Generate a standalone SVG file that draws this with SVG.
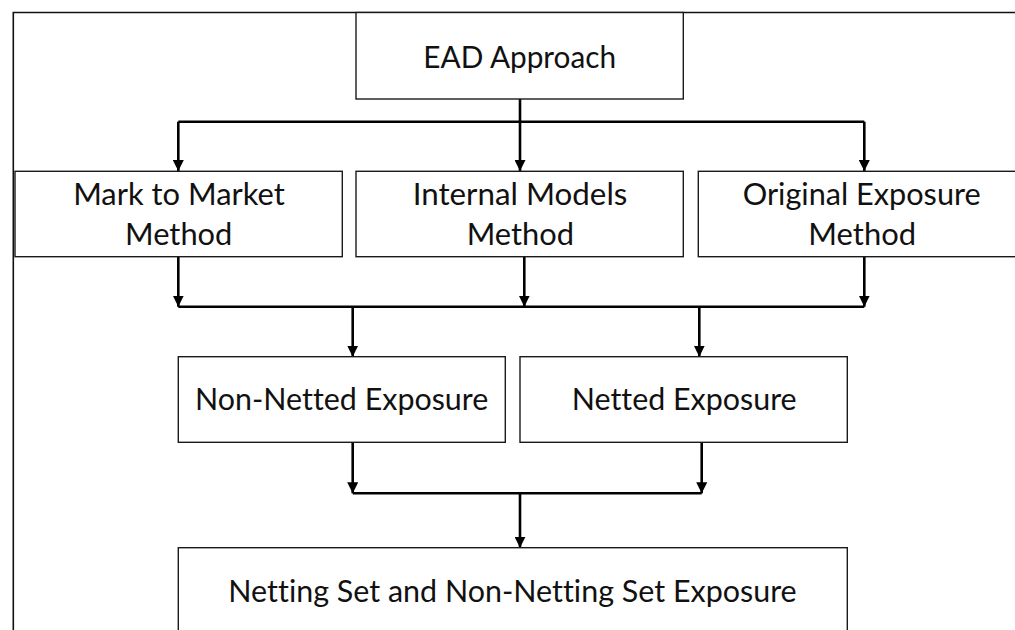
<svg xmlns="http://www.w3.org/2000/svg" width="1015" height="630" viewBox="0 0 1015 630">
  <style>
    .box { fill: #ffffff; stroke: #1a1a1a; stroke-width: 1.4; }
    .lbl { font-family: Lato, "Liberation Sans", sans-serif; font-size: 30px; fill: #111111; text-anchor: middle; font-variant-ligatures: none; font-feature-settings: "liga" 0, "clig" 0; }
    .con { fill: none; stroke: #000000; stroke-width: 2.6; }
    .frame { fill: none; stroke: #111111; stroke-width: 1.6; }
  </style>
  <defs>
    <marker id="arr" markerUnits="userSpaceOnUse" markerWidth="11" markerHeight="11" refX="10" refY="5" orient="auto" viewBox="0 0 10 10">
      <path d="M0,0 L10,5 L0,10 z" fill="#000000"/>
    </marker>
  </defs>

  <path class="frame" d="M13.3,630 V12.5 H1015"/>

  <g id="connectors">
    <path class="con" d="M520,99 V121.7 M178.3,121.7 H864.3"/>
    <path class="con" d="M178.3,121.7 V171" marker-end="url(#arr)"/>
    <path class="con" d="M520,121.7 V171" marker-end="url(#arr)"/>
    <path class="con" d="M864.3,121.7 V171" marker-end="url(#arr)"/>

    <path class="con" d="M178.3,306.7 H864.3"/>
    <path class="con" d="M178.3,256.7 V306.7" marker-end="url(#arr)"/>
    <path class="con" d="M524.3,256.7 V306.7" marker-end="url(#arr)"/>
    <path class="con" d="M864.3,256.7 V306.7" marker-end="url(#arr)"/>
    <path class="con" d="M352.7,306.7 V356.7" marker-end="url(#arr)"/>
    <path class="con" d="M699.3,306.7 V356.7" marker-end="url(#arr)"/>

    <path class="con" d="M352.7,493.3 H701.7"/>
    <path class="con" d="M352.7,442.3 V493.3" marker-end="url(#arr)"/>
    <path class="con" d="M701.7,442.3 V493.3" marker-end="url(#arr)"/>
    <path class="con" d="M520,493.3 V547.7" marker-end="url(#arr)"/>
  </g>

  <g id="ead">
    <rect class="box" x="356" y="12.5" width="327.3" height="86.5"/>
    <text class="lbl" x="519.7" y="68.3" textLength="192.7" lengthAdjust="spacingAndGlyphs">EAD Approach</text>
  </g>

  <g id="mtm">
    <rect class="box" x="15" y="171.3" width="327.3" height="85.4"/>
    <text class="lbl" x="179" y="205" textLength="211.7" lengthAdjust="spacingAndGlyphs">Mark to Market</text>
    <text class="lbl" x="178.7" y="245" textLength="107.3" lengthAdjust="spacingAndGlyphs">Method</text>
  </g>

  <g id="imm">
    <rect class="box" x="356" y="171.3" width="327.3" height="85.4"/>
    <text class="lbl" x="520" y="205" textLength="214.7" lengthAdjust="spacingAndGlyphs">Internal Models</text>
    <text class="lbl" x="520.3" y="245" textLength="107.3" lengthAdjust="spacingAndGlyphs">Method</text>
  </g>

  <g id="oem">
    <rect class="box" x="698.3" y="171.3" width="327.3" height="85.4"/>
    <text class="lbl" x="861.7" y="205" textLength="238" lengthAdjust="spacingAndGlyphs">Original Exposure</text>
    <text class="lbl" x="862.2" y="245" textLength="107.7" lengthAdjust="spacingAndGlyphs">Method</text>
  </g>

  <g id="nne">
    <rect class="box" x="178.3" y="356.7" width="327" height="85.6"/>
    <text class="lbl" x="341.7" y="410" textLength="293.3" lengthAdjust="spacingAndGlyphs">Non-Netted Exposure</text>
  </g>

  <g id="ne">
    <rect class="box" x="520" y="356.7" width="327.3" height="85.6"/>
    <text class="lbl" x="684.2" y="410" textLength="225" lengthAdjust="spacingAndGlyphs">Netted Exposure</text>
  </g>

  <g id="ns">
    <rect class="box" x="178.3" y="547.7" width="669" height="100"/>
    <text class="lbl" x="512.5" y="601.7" textLength="568.4" lengthAdjust="spacingAndGlyphs">Netting Set and Non-Netting Set Exposure</text>
  </g>
</svg>
